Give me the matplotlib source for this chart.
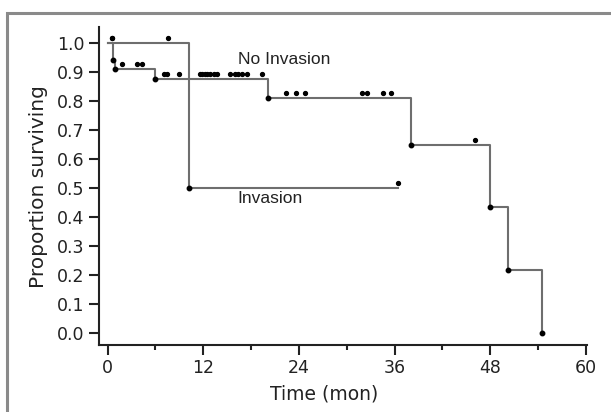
import numpy as np
import matplotlib
matplotlib.use("Agg")
import matplotlib.pyplot as plt
from matplotlib.patches import Rectangle

# Kaplan-Meier data (time in months)
noinv_event_t = [0.65, 0.95, 5.9, 20.1, 38.1, 48.0, 50.3, 54.5]
noinv_surv = [0.940, 0.909, 0.876, 0.809, 0.647, 0.432, 0.216, 0.0]
noinv_censor_t = [0.5, 1.8, 3.65, 4.3, 7.1, 7.5, 9.0, 11.6, 11.9, 12.2, 12.5,
                  12.85, 13.35, 13.7, 15.4, 16.0, 16.4, 16.8, 17.45, 19.35,
                  22.35, 23.6, 24.8, 31.9, 32.5, 34.5, 35.5, 46.1]

inv_event_t = [10.2]
inv_surv = [0.5]
inv_censor_t = [0.5, 7.6, 36.4]

x_ticks = [0, 12, 24, 36, 48, 60]
y_ticks = [0.0, 0.1, 0.2, 0.3, 0.4, 0.5, 0.6, 0.7, 0.8, 0.9, 1.0]

line_col = "#6e6e6e"


def km_curve(ev_t, surv, end_t):
    t = [0.0] + list(ev_t) + [end_t]
    s = [1.0] + list(surv) + [surv[-1]]
    return t, s


def surv_at(ev_t, surv, t):
    out = 1.0
    for et, s in zip(ev_t, surv):
        if et <= t:
            out = s
    return out


fig = plt.figure(figsize=(6.11, 4.12), dpi=100)
ax = fig.add_axes([0.1614, 0.1626, 0.7986, 0.7726])

# outer gray frame
fig.patches.append(Rectangle((0.0115, -0.05), 1.1, 1.019, transform=fig.transFigure,
                             fill=False, edgecolor="#8a8a8a", linewidth=2.2))

for ev_t, surv, cens, end_t in [(noinv_event_t, noinv_surv, noinv_censor_t, noinv_event_t[-1]),
                                 (inv_event_t, inv_surv, inv_censor_t, max(inv_censor_t))]:
    t, s = km_curve(ev_t, surv, end_t)
    ax.step(t, s, where="post", color=line_col, linewidth=1.5, zorder=2)
    ax.plot(ev_t, surv, "o", color="black", markersize=3.2, zorder=3)
    cy = [surv_at(ev_t, surv, c) + 0.017 for c in cens]
    ax.plot(cens, cy, "o", color="black", markersize=2.8, zorder=3)

ax.text(16.3, 0.942, "No Invasion", fontsize=12.5, family="Liberation Sans",
        color="#222222", va="center", ha="left")
ax.text(16.3, 0.462, "Invasion", fontsize=12.5, family="Liberation Sans",
        color="#222222", va="center", ha="left")

ax.set_xlim(-1.13, 60.1)
ax.set_ylim(-0.042, 1.055)
ax.set_xticks(x_ticks)
ax.set_xticks([6, 18, 30, 42, 54], minor=True)
ax.set_yticks(y_ticks)
ax.set_yticklabels([f"{v:.1f}" for v in y_ticks])

for sp in ["top", "right"]:
    ax.spines[sp].set_visible(False)
for sp in ["left", "bottom"]:
    ax.spines[sp].set_linewidth(1.5)
    ax.spines[sp].set_color("#222222")

ax.tick_params(axis="both", which="major", direction="out", length=7, width=1.5,
               labelsize=12.5, colors="#222222", pad=3)
ax.tick_params(axis="x", which="minor", direction="out", length=3.5, width=1.5,
               colors="#222222")

ax.set_xlabel("Time (mon)", fontsize=13.5, color="#222222")
ax.set_ylabel("Proportion surviving", fontsize=14.5, color="#222222")
ax.xaxis.set_label_coords(0.462, -0.125)
ax.yaxis.set_label_coords(-0.104, 0.498)

fig.savefig("out.png", dpi=100)
